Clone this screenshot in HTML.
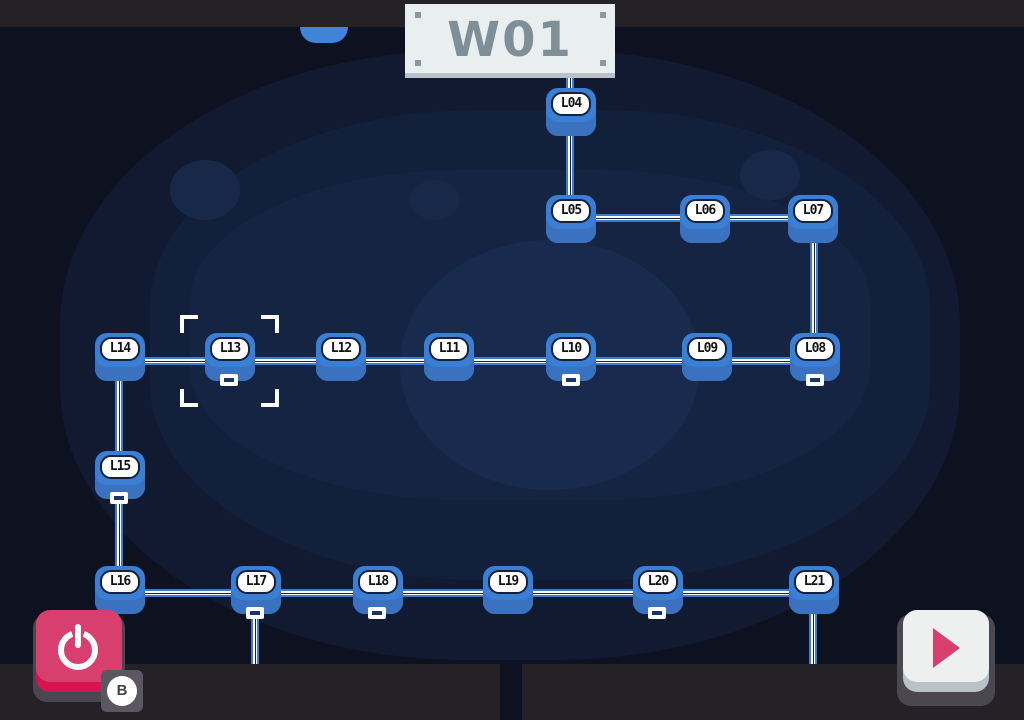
<!DOCTYPE html><html><head><style>
body{margin:0;width:1024px;height:720px;overflow:hidden;background:#0e1120;position:relative;font-family:"DejaVu Sans Mono","Liberation Mono",monospace}
.a{position:absolute}
.blob{position:absolute;border-radius:50%;background:#15223d}
.h{position:absolute;height:8px;background:#3d7bd0;}
.h::before{content:"";position:absolute;left:0;right:0;top:2px;height:4px;background:#fff}
.h::after{content:"";position:absolute;left:0;right:0;top:3.5px;height:1px;background:#14213f}
.v{position:absolute;width:8px;background:#3d7bd0}
.v::before{content:"";position:absolute;top:0;bottom:0;left:2px;width:4px;background:#fff}
.v::after{content:"";position:absolute;top:0;bottom:0;left:3.5px;width:1px;background:#14213f}
.n{position:absolute;width:50px;height:48px;margin-left:-25px;margin-top:-4px;background:#3b7fd4;border-radius:12px;box-shadow:inset 0 -14px 0 #3a72c0}
.n span{position:absolute;left:5px;top:4px;width:36px;height:20px;background:#fff;border:2px solid #14213f;border-radius:11px;font-size:13px;font-weight:bold;color:#111;text-align:center;line-height:20px;letter-spacing:-1px}
.m{position:absolute;width:18px;height:12px;margin-left:-9px;background:#fff;border-radius:2px}
.m::after{content:"";position:absolute;left:4px;top:4px;width:10px;height:4px;background:#1d3566}
.br{position:absolute;width:14px;height:14px;border-color:#fff;border-style:solid;border-width:0}
</style></head><body>
<div class="blob" style="left:60px;top:50px;width:900px;height:610px;background:#111a30;border-radius:45%"></div>
<div class="blob" style="left:150px;top:110px;width:780px;height:470px;background:#13203b;border-radius:42%"></div>
<div class="blob" style="left:190px;top:170px;width:680px;height:330px;background:#152443;border-radius:40%"></div>
<div class="blob" style="left:400px;top:240px;width:300px;height:250px;background:#182a4e"></div>
<div class="blob" style="left:170px;top:160px;width:70px;height:60px;background:#182848"></div>
<div class="blob" style="left:740px;top:150px;width:60px;height:50px;background:#182848"></div>
<div class="blob" style="left:410px;top:180px;width:50px;height:40px;background:#182848"></div>
<div class="a" style="left:0;top:0;width:1024px;height:27px;background:#242226"></div>
<div class="a" style="left:300px;top:27px;width:48px;height:16px;background:#3f84d8;border-radius:0 0 24px 24px"></div>
<div class="v" style="left:566px;top:76px;height:140px"></div>
<div class="h" style="left:570px;top:214px;width:244px"></div>
<div class="v" style="left:810px;top:214px;height:146px"></div>
<div class="h" style="left:119px;top:357px;width:695px"></div>
<div class="v" style="left:115px;top:357px;height:233px"></div>
<div class="h" style="left:119px;top:589px;width:694px"></div>
<div class="v" style="left:251px;top:589px;height:80px"></div>
<div class="v" style="left:809px;top:589px;height:80px"></div>
<div class="a" style="left:405px;top:4px;width:210px;height:69px;background:#e9eeee;border-bottom:5px solid #b7c3c8"></div>
<div class="a" style="left:405px;top:12px;width:210px;text-align:center;font:bold 48px 'DejaVu Sans',sans-serif;color:#7f8f98;letter-spacing:2px">W01</div>
<div class="a" style="left:415px;top:12px;width:6px;height:6px;background:#8a9aa2"></div>
<div class="a" style="left:600px;top:12px;width:6px;height:6px;background:#8a9aa2"></div>
<div class="a" style="left:415px;top:60px;width:6px;height:6px;background:#8a9aa2"></div>
<div class="a" style="left:600px;top:60px;width:6px;height:6px;background:#8a9aa2"></div>
<div class="n" style="left:571px;top:92px"><span>L04</span></div>
<div class="n" style="left:571px;top:199px"><span>L05</span></div>
<div class="n" style="left:705px;top:199px"><span>L06</span></div>
<div class="n" style="left:813px;top:199px"><span>L07</span></div>
<div class="n" style="left:815px;top:337px"><span>L08</span></div>
<div class="n" style="left:707px;top:337px"><span>L09</span></div>
<div class="n" style="left:571px;top:337px"><span>L10</span></div>
<div class="n" style="left:449px;top:337px"><span>L11</span></div>
<div class="n" style="left:341px;top:337px"><span>L12</span></div>
<div class="n" style="left:230px;top:337px"><span>L13</span></div>
<div class="n" style="left:120px;top:337px"><span>L14</span></div>
<div class="n" style="left:120px;top:455px"><span>L15</span></div>
<div class="n" style="left:120px;top:570px"><span>L16</span></div>
<div class="n" style="left:256px;top:570px"><span>L17</span></div>
<div class="n" style="left:378px;top:570px"><span>L18</span></div>
<div class="n" style="left:508px;top:570px"><span>L19</span></div>
<div class="n" style="left:658px;top:570px"><span>L20</span></div>
<div class="n" style="left:814px;top:570px"><span>L21</span></div>
<div class="m" style="left:229px;top:374px"></div>
<div class="m" style="left:571px;top:374px"></div>
<div class="m" style="left:815px;top:374px"></div>
<div class="m" style="left:119px;top:492px"></div>
<div class="m" style="left:255px;top:607px"></div>
<div class="m" style="left:377px;top:607px"></div>
<div class="m" style="left:657px;top:607px"></div>
<div class="br" style="left:180px;top:315px;border-left-width:4px;border-top-width:4px"></div>
<div class="br" style="left:261px;top:315px;border-right-width:4px;border-top-width:4px"></div>
<div class="br" style="left:180px;top:389px;border-left-width:4px;border-bottom-width:4px"></div>
<div class="br" style="left:261px;top:389px;border-right-width:4px;border-bottom-width:4px"></div>
<div class="a" style="left:0;top:664px;width:500px;height:56px;background:#242226"></div>
<div class="a" style="left:522px;top:664px;width:502px;height:56px;background:#242226"></div>
<div class="a" style="left:33px;top:614px;width:92px;height:88px;background:#4a4750;border-radius:14px"></div>
<div class="a" style="left:36px;top:612px;width:86px;height:80px;background:#d8134f;border-radius:14px"></div>
<div class="a" style="left:36px;top:610px;width:86px;height:72px;background:#d83f6e;border-radius:14px"></div>
<div class="a" style="left:58px;top:630px;width:40px;height:40px;border:6px solid #fff;border-radius:50%;box-sizing:border-box;clip-path:polygon(0 0,32% 0,50% 50%,68% 0,100% 0,100% 100%,0 100%)"></div>
<div class="a" style="left:75px;top:624px;width:6px;height:24px;background:#fff;border-radius:3px"></div>
<div class="a" style="left:101px;top:670px;width:42px;height:42px;background:#5a5760;border-radius:6px"></div>
<div class="a" style="left:107px;top:676px;width:30px;height:30px;background:#fff;border-radius:50%;text-align:center;font:bold 15px 'Liberation Sans',sans-serif;line-height:30px;color:#444">B</div>
<div class="a" style="left:897px;top:614px;width:98px;height:92px;background:#4a4750;border-radius:14px"></div>
<div class="a" style="left:903px;top:612px;width:86px;height:80px;background:#b9c2c6;border-radius:14px"></div>
<div class="a" style="left:903px;top:610px;width:86px;height:72px;background:#eef0f0;border-radius:14px"></div>
<div class="a" style="left:933px;top:628px;width:0;height:0;border-left:27px solid #d83f6e;border-top:20px solid transparent;border-bottom:20px solid transparent"></div>
</body></html>
